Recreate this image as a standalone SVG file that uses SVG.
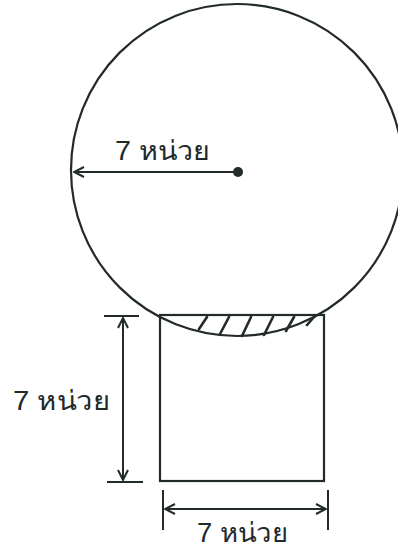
<svg xmlns="http://www.w3.org/2000/svg" width="398" height="550" viewBox="0 0 398 550">
<defs>
<style>
.ln{fill:none;stroke:#222a2a;stroke-width:2.2;stroke-linecap:round}
.thin{fill:none;stroke:#222a2a;stroke-width:2;}
.lbl{font-family:"Liberation Sans","Noto Sans",sans-serif;font-size:27px;fill:#1e2a2c}
</style>
<marker id="ah" viewBox="0 0 12 12" refX="11" refY="6" markerWidth="12" markerHeight="12" markerUnits="userSpaceOnUse" orient="auto-start-reverse">
<path d="M1,1 L11,6 L1,11" fill="none" stroke="#222a2a" stroke-width="2"/>
</marker>
</defs>
<rect width="398" height="550" fill="#ffffff"/>
<g id="circle">
<circle cx="237" cy="170" r="166" class="ln"/>
<circle cx="238" cy="172" r="5" fill="#222a2a"/>
</g>
<g id="square">
<rect x="160" y="315" width="164" height="166" class="ln"/>
</g>
<g id="hatch">
<path d="M207,317 L199,329 M229,317 L220,334 M251,317 L242,336 M273,317 L264,335 M294,317 L286,331 M314,317 L307,325" class="ln" style="stroke-width:2.6"/>
</g>
<g id="connectors">
<line x1="236" y1="172" x2="74" y2="172" class="thin" marker-end="url(#ah)"/>
<line x1="104" y1="316" x2="139" y2="316" class="thin"/>
<line x1="107" y1="482" x2="143" y2="482" class="thin"/>
<line x1="123" y1="318" x2="123" y2="480" class="thin" marker-start="url(#ah)" marker-end="url(#ah)"/>
<line x1="163" y1="490" x2="163" y2="530" class="thin"/>
<line x1="328" y1="490" x2="328" y2="530" class="thin"/>
<line x1="165" y1="509" x2="326" y2="509" class="thin" marker-start="url(#ah)" marker-end="url(#ah)"/>
</g>
<g id="labels">
<text x="115" y="160" class="lbl" textLength="95" lengthAdjust="spacingAndGlyphs">7 หน่วย</text>
<text x="13" y="410" class="lbl" textLength="97" lengthAdjust="spacingAndGlyphs">7 หน่วย</text>
<text x="197" y="542" class="lbl" textLength="91" lengthAdjust="spacingAndGlyphs">7 หน่วย</text>
</g>
</svg>
